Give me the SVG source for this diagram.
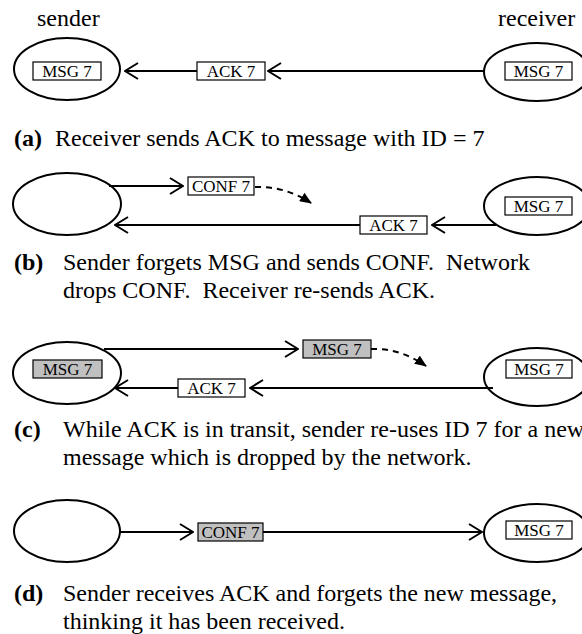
<svg xmlns="http://www.w3.org/2000/svg" width="582" height="634" viewBox="0 0 582 634">
<style>
.ell{fill:none;stroke:#000;stroke-width:2}
.box{fill:#fff;stroke:#000;stroke-width:1.2}
.gray{fill:#c0c0c0;stroke:#000;stroke-width:1.2}
.bt{font-family:"Liberation Serif","Times New Roman",serif;font-size:17px;text-anchor:middle;fill:#000}
.lbl{font-family:"Liberation Serif","Times New Roman",serif;font-size:24px;fill:#000}
.cap{font-family:"Liberation Serif","Times New Roman",serif;font-size:24px;fill:#000;white-space:pre}
.b{font-weight:bold}
.ln{fill:none;stroke:#000;stroke-width:2;marker-end:url(#chev)}
.dash{fill:none;stroke:#000;stroke-width:2;stroke-dasharray:6,5;marker-end:url(#tri)}
</style>
<defs>
<marker id="chev" markerUnits="userSpaceOnUse" viewBox="0 0 15 18" refX="14" refY="9" markerWidth="15" markerHeight="18" orient="auto">
<path d="M1,1 L14,9 L1,17" fill="none" stroke="#000" stroke-width="2"/>
</marker>
<marker id="tri" markerUnits="userSpaceOnUse" viewBox="0 0 12 10" refX="11" refY="5" markerWidth="12" markerHeight="10" orient="auto">
<path d="M0,0 L12,5 L0,10 z" fill="#000" stroke="none"/>
</marker>
</defs>

<g id="labels">
<text class="lbl" x="37" y="26">sender</text>
<text class="lbl" x="498" y="26">receiver</text>
</g>

<!-- panel a -->
<g id="a-sender">
<ellipse class="ell" cx="67" cy="69" rx="53" ry="31"/>
<rect class="box" x="33" y="62" width="68" height="18"/>
<text class="bt" x="67" y="77">MSG 7</text>
</g>
<g id="a-receiver">
<ellipse class="ell" cx="537" cy="72" rx="53" ry="29"/>
<rect class="box" x="505" y="62" width="67" height="18"/>
<text class="bt" x="538.5" y="77">MSG 7</text>
</g>
<g id="a-connectors">
<path class="ln" d="M484,71 L268,71"/>
<path class="ln" d="M197,71 L125,71"/>
</g>
<g id="a-ack">
<rect class="box" x="197" y="62" width="68" height="18"/>
<text class="bt" x="231" y="77">ACK 7</text>
</g>
<g id="a-caption">
<text class="cap b" x="14" y="146">(a)</text>
<text class="cap" x="55" y="146">Receiver sends ACK to message with ID = 7</text>
</g>

<!-- panel b -->
<g id="b-sender">
<ellipse class="ell" cx="67" cy="204" rx="54" ry="31"/>
</g>
<g id="b-receiver">
<ellipse class="ell" cx="537" cy="206" rx="53" ry="29"/>
<rect class="box" x="505" y="197" width="67" height="18"/>
<text class="bt" x="538.5" y="212">MSG 7</text>
</g>
<g id="b-connectors">
<path class="ln" d="M109,186 L183,186"/>
<path class="dash" d="M255,187 Q285,186 311,203"/>
<path class="ln" d="M496,225 L432,225"/>
<path class="ln" d="M360,225 L115,225"/>
</g>
<g id="b-conf">
<rect class="box" x="188" y="177" width="66" height="18"/>
<text class="bt" x="221" y="192">CONF 7</text>
</g>
<g id="b-ack">
<rect class="box" x="360" y="216" width="67" height="18"/>
<text class="bt" x="393.5" y="231">ACK 7</text>
</g>
<g id="b-caption">
<text class="cap b" x="14" y="270">(b)</text>
<text class="cap" x="63" y="270" xml:space="preserve">Sender forgets MSG and sends CONF.  Network</text>
<text class="cap" x="63" y="298" xml:space="preserve">drops CONF.  Receiver re-sends ACK.</text>
</g>

<!-- panel c -->
<g id="c-sender">
<ellipse class="ell" cx="67" cy="373" rx="54" ry="31"/>
<rect class="gray" x="33" y="360" width="69" height="18"/>
<text class="bt" x="67.5" y="375">MSG 7</text>
</g>
<g id="c-receiver">
<ellipse class="ell" cx="537" cy="377" rx="53" ry="29"/>
<rect class="box" x="506" y="360" width="66" height="18"/>
<text class="bt" x="539" y="375">MSG 7</text>
</g>
<g id="c-connectors">
<path class="ln" d="M104,349 L298,349"/>
<path class="dash" d="M371,349 Q400,348 426,366"/>
<path class="ln" d="M493,388 L250,388"/>
<path class="ln" d="M178,388 L115,388"/>
</g>
<g id="c-msg">
<rect class="gray" x="303" y="340" width="68" height="18"/>
<text class="bt" x="337" y="355">MSG 7</text>
</g>
<g id="c-ack">
<rect class="box" x="178" y="379" width="67" height="18"/>
<text class="bt" x="211.5" y="394">ACK 7</text>
</g>
<g id="c-caption">
<text class="cap b" x="14" y="437">(c)</text>
<text class="cap" x="63" y="437">While ACK is in transit, sender re-uses ID 7 for a new</text>
<text class="cap" x="63" y="465">message which is dropped by the network.</text>
</g>

<!-- panel d -->
<g id="d-sender">
<ellipse class="ell" cx="67" cy="531" rx="53" ry="31"/>
</g>
<g id="d-receiver">
<ellipse class="ell" cx="537" cy="533" rx="53" ry="29"/>
<rect class="box" x="506" y="521" width="66" height="18"/>
<text class="bt" x="539" y="536">MSG 7</text>
</g>
<g id="d-connectors">
<path class="ln" d="M120,532 L193,532"/>
<path class="ln" d="M263,532 L482,532"/>
</g>
<g id="d-conf">
<rect class="gray" x="198" y="523" width="65" height="18"/>
<text class="bt" x="230.5" y="538">CONF 7</text>
</g>
<g id="d-caption">
<text class="cap b" x="14" y="601">(d)</text>
<text class="cap" x="63" y="601">Sender receives ACK and forgets the new message,</text>
<text class="cap" x="63" y="629">thinking it has been received.</text>
</g>
</svg>
